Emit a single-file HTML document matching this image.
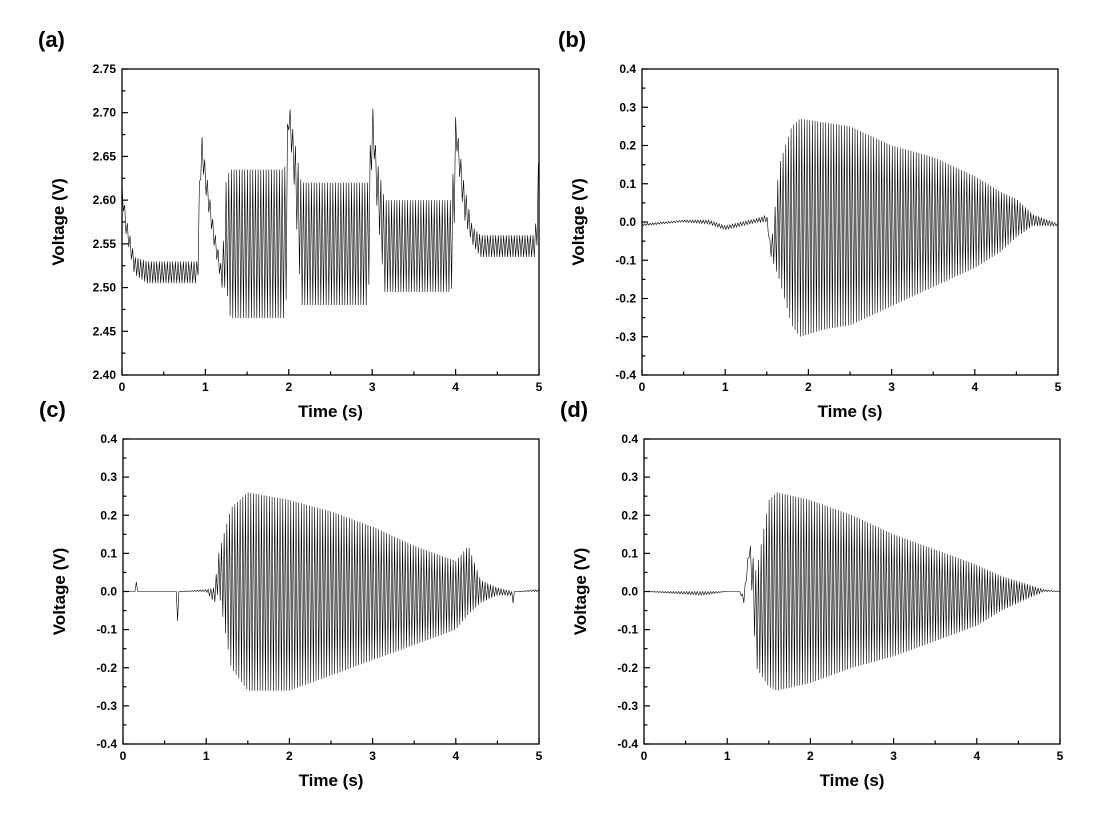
<!DOCTYPE html>
<html><head><meta charset="utf-8"><style>
html,body{margin:0;padding:0;background:#fff;}
svg{display:block;font-family:"Liberation Sans",Arial,sans-serif;}
</style></head><body>
<svg id="fig" width="1093" height="829" viewBox="0 0 1093 829"></svg>
<script>
// Panel (a) envelope data (time s, upper V, lower V)
const tA=[0,0.05,0.15,0.3,0.9,0.92,0.95,1.0,1.1,1.2,1.25,1.3,1.95,1.98,2.0,2.05,2.15,2.2,2.95,2.98,3.0,3.05,3.15,3.95,3.98,4.0,4.1,4.2,4.3,4.95,4.98,5];
const hiA=[2.62,2.58,2.535,2.53,2.53,2.6,2.68,2.64,2.57,2.52,2.625,2.635,2.635,2.68,2.715,2.68,2.62,2.62,2.62,2.67,2.715,2.65,2.6,2.6,2.65,2.695,2.62,2.57,2.56,2.56,2.6,2.67];
const loA=[2.6,2.56,2.515,2.505,2.505,2.52,2.65,2.61,2.55,2.5,2.5,2.465,2.465,2.5,2.68,2.64,2.48,2.48,2.48,2.55,2.69,2.6,2.495,2.495,2.55,2.67,2.58,2.55,2.535,2.535,2.55,2.62];
// Panel (b)
const tB=[0,0.5,0.8,1.0,1.4,1.5,1.55,1.65,1.8,1.9,2.2,2.5,3,3.5,4,4.3,4.5,4.7,5];
const hiB=[-0.005,0.005,0.005,-0.01,0.01,0.02,-0.07,0.15,0.25,0.27,0.26,0.25,0.2,0.17,0.12,0.08,0.06,0.02,-0.005];
const loB=[-0.01,0.0,-0.005,-0.02,0.0,0.0,-0.09,-0.15,-0.27,-0.3,-0.28,-0.27,-0.22,-0.17,-0.12,-0.08,-0.04,-0.01,-0.01];
// Panel (c)
const tC=[0,0.13,0.15,0.17,0.63,0.65,0.67,1.0,1.1,1.15,1.3,1.5,2,2.5,3,3.5,4,4.15,4.3,4.5,4.68,4.7,4.72,5];
const hiC=[0,0,0.05,0,0,0,0,0.005,0.01,0.1,0.22,0.26,0.24,0.21,0.17,0.12,0.08,0.12,0.03,0.01,0,0,0,0.005];
const loC=[0,0,0,0,0,-0.11,0,0,-0.03,0,-0.2,-0.26,-0.26,-0.22,-0.18,-0.14,-0.1,-0.06,-0.03,-0.01,-0.01,-0.06,0,0];
// Panel (d)
const tD=[0,0.7,1.0,1.15,1.2,1.27,1.35,1.5,1.6,2,2.5,3,3.5,4,4.3,4.6,4.8,5];
const hiD=[0,0,0,0,-0.01,0.13,0.05,0.24,0.26,0.24,0.2,0.15,0.11,0.07,0.04,0.02,0.005,0];
const loD=[0,-0.01,0,0,-0.03,0.1,-0.2,-0.25,-0.26,-0.24,-0.2,-0.17,-0.13,-0.09,-0.05,-0.02,0,0];
const xTicks=["0","1","2","3","4","5"];
const yTicksA=["2.40","2.45","2.50","2.55","2.60","2.65","2.70","2.75"];
const yTicksB=["-0.4","-0.3","-0.2","-0.1","0.0","0.1","0.2","0.3","0.4"];

const NS="http://www.w3.org/2000/svg";
const svg=document.getElementById('fig');
function mk(tag,attrs,parent){const e=document.createElementNS(NS,tag);for(const k in attrs)e.setAttribute(k,attrs[k]);(parent||svg).appendChild(e);return e;}
function interp(ts,vs,t){for(let i=1;i<ts.length;i++){if(t<=ts[i]){const f=(t-ts[i-1])/(ts[i]-ts[i-1]||1);return vs[i-1]+f*(vs[i]-vs[i-1]);}}return vs[vs.length-1];}

function panel(id,letter,L,T,R,B,ymin,ymax,yTicks,ts,hi,lo){
  const g=mk('g',{});
  
  
  const xs=t=>L+(t/5)*(R-L);
  const ys=v=>B-(v-ymin)/(ymax-ymin)*(B-T);
  let d='';const dt=0.016;let k=0;
  for(let t=0;t<=5.0001;t+=dt,k++){
    const v=(k%2===0)?interp(ts,hi,t):interp(ts,lo,t);
    d+=(k?'L':'M')+xs(Math.min(t,5)).toFixed(2)+' '+ys(v).toFixed(2);
  }
  const p=mk('path',{d:d,fill:'none',stroke:'#000','stroke-width':'0.6'},g);
  
  
  const frame=mk('rect',{x:L,y:T,width:R-L,height:B-T,fill:'none',stroke:'#000','stroke-width':'1.3'},g);
  
  
  xTicks.forEach((lab,i)=>{
    const x=xs(+lab);
    mk('line',{x1:x,x2:x,y1:B,y2:B-6,stroke:'#000','stroke-width':'1.2'},g);
    if(i<xTicks.length-1){const xm=xs(+lab+0.5);mk('line',{x1:xm,x2:xm,y1:B,y2:B-3.5,stroke:'#000','stroke-width':'1.2'},g);}
    const tx=mk('text',{x:x,y:B+16,'text-anchor':'middle','font-size':'12','font-weight':'bold'},g);
    tx.textContent=lab;
    
    
  });
  yTicks.forEach((lab,i)=>{
    const y=ys(+lab);
    mk('line',{x1:L,x2:L+6,y1:y,y2:y,stroke:'#000','stroke-width':'1.2'},g);
    if(i<yTicks.length-1){const ym=ys((+lab+ +yTicks[i+1])/2);mk('line',{x1:L,x2:L+3.5,y1:ym,y2:ym,stroke:'#000','stroke-width':'1.2'},g);}
    const tx=mk('text',{x:L-6,y:y+4,'text-anchor':'end','font-size':'12','font-weight':'bold'},g);
    tx.textContent=lab;
    
    
  });
  const xt=mk('text',{x:(L+R)/2,y:B+42,'text-anchor':'middle','font-size':'17','font-weight':'bold'},g);
  xt.textContent='Time (s)';
  
  
  const yc=(T+B)/2;
  const yt=mk('text',{x:L-58,y:yc,'text-anchor':'middle','font-size':'17','font-weight':'bold',transform:'rotate(-90 '+(L-58)+' '+yc+')'},g);
  yt.textContent='Voltage (V)';
  
  
  const pl=mk('text',{x:L-84,y:T-22,'font-size':'22','font-weight':'bold'},g);
  pl.textContent='('+letter+')';
  
  
}
panel('a','a',122,69,539,375,2.40,2.75,yTicksA,tA,hiA,loA);
panel('b','b',642,69,1058,375,-0.4,0.4,yTicksB,tB,hiB,loB);
panel('c','c',123,439,539,744,-0.4,0.4,yTicksB,tC,hiC,loC);
panel('d','d',644,439,1060,744,-0.4,0.4,yTicksB,tD,hiD,loD);
</script>
</body></html>
